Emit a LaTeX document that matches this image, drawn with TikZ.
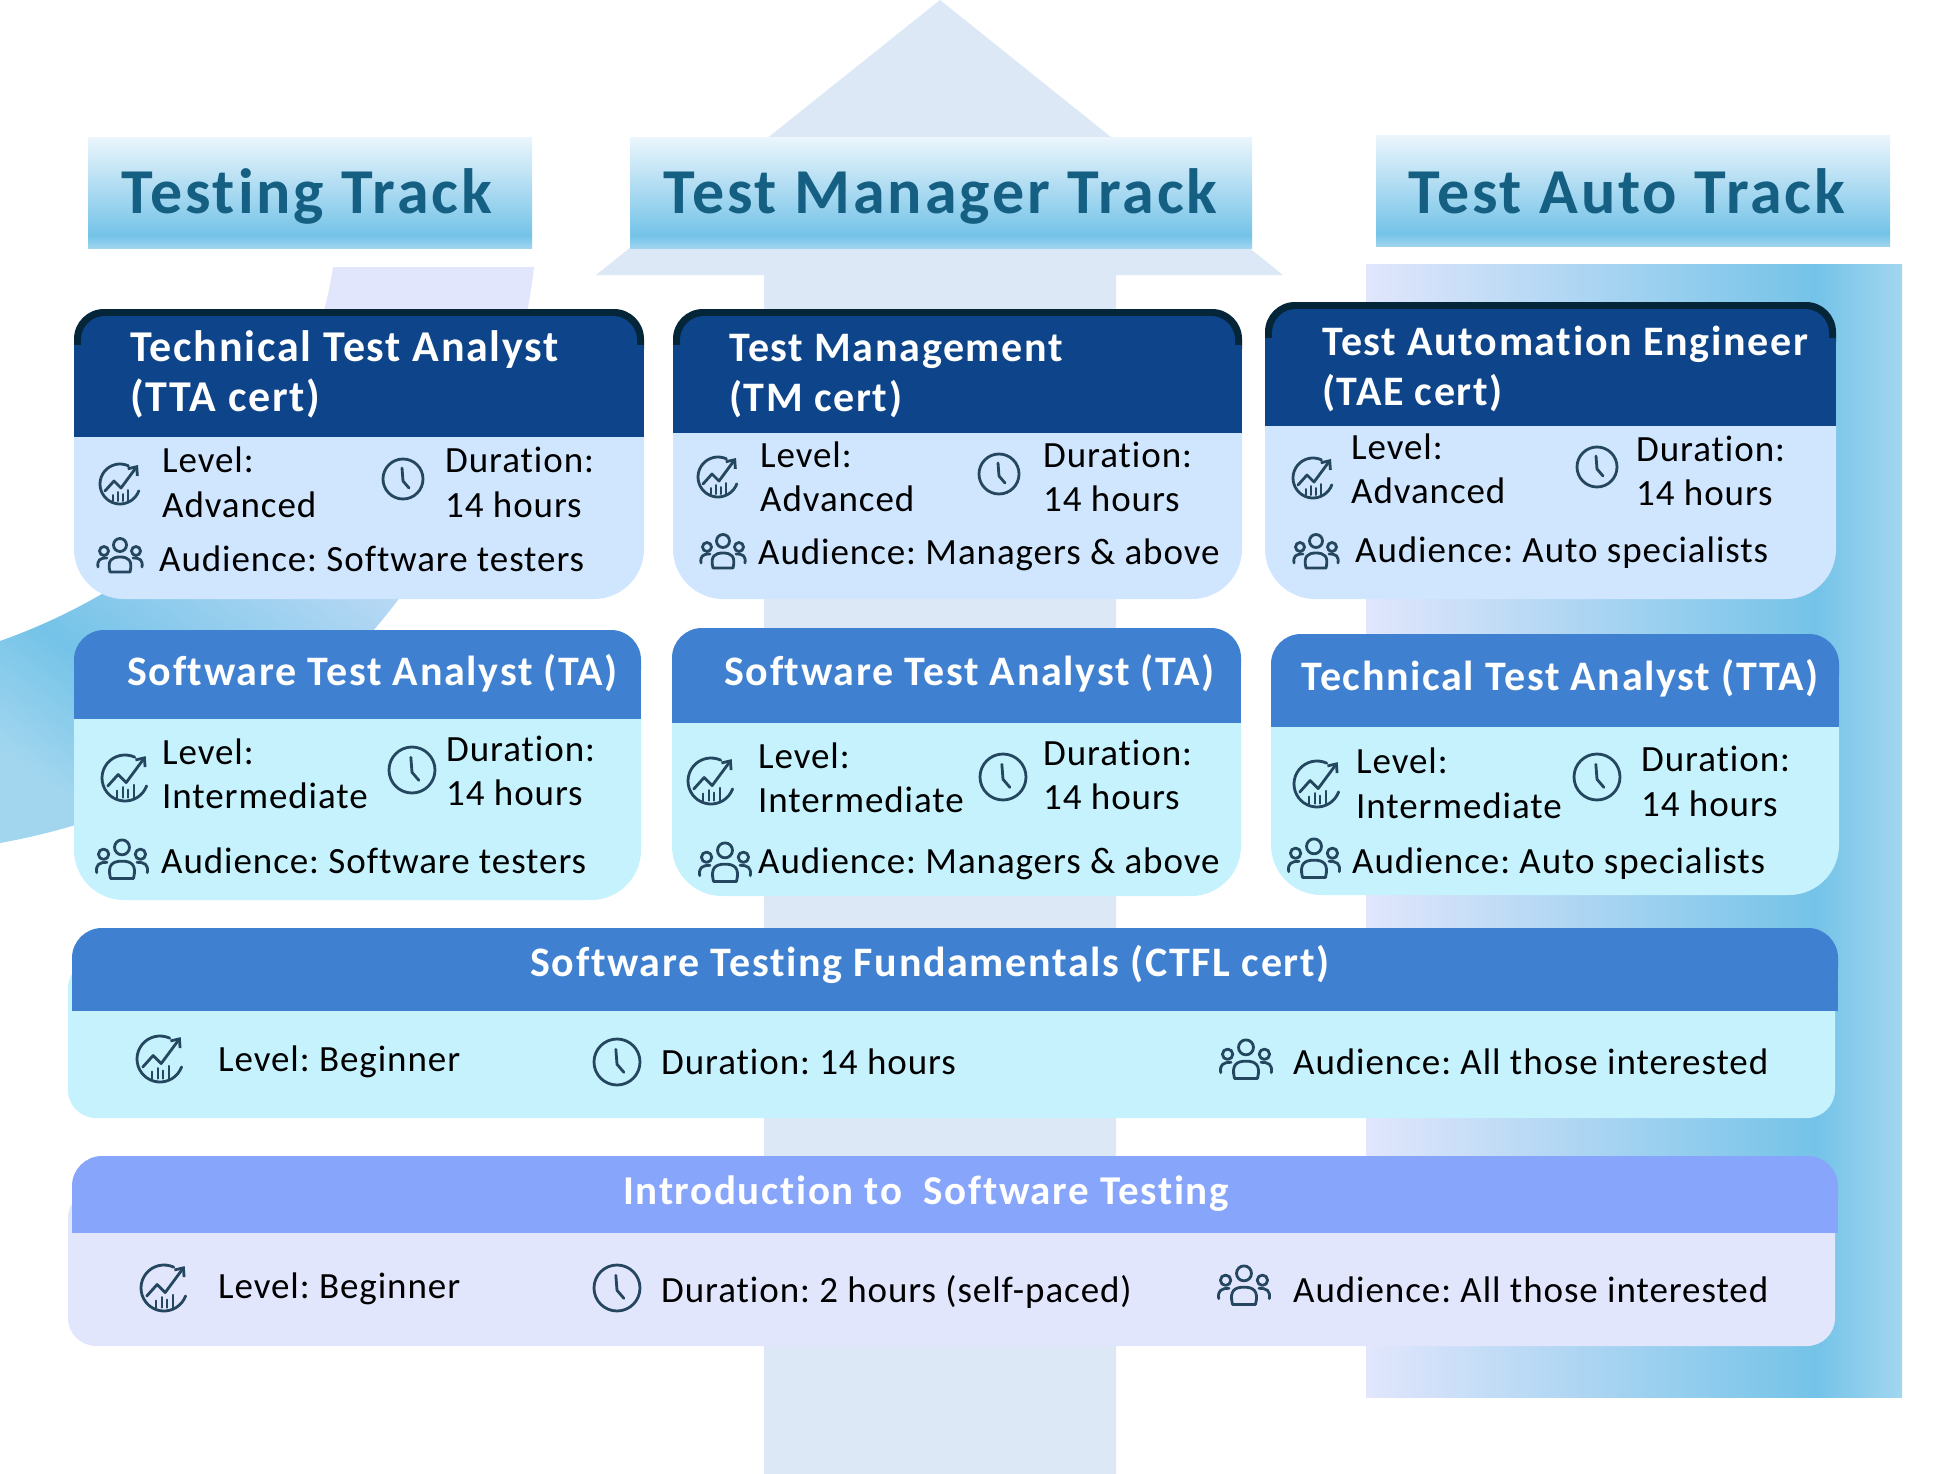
\documentclass[tikz,border=0pt]{standalone}
\usepackage{fontspec}
\setmainfont[Ligatures=NoCommon]{Carlito}
\usetikzlibrary{shadings,arrows.meta}

\definecolor{arrowblue}{HTML}{DCE8F6}
\definecolor{bandlight}{HTML}{E1E6FC}
\definecolor{bandmid}{HTML}{74C3E8}
\definecolor{bandend}{HTML}{A2D6EF}
\definecolor{bannertop}{HTML}{EAF5FC}
\definecolor{trackink}{HTML}{156082}
\definecolor{headnavy}{HTML}{0E458A}
\definecolor{headrim}{HTML}{052538}
\definecolor{headblue}{HTML}{4080D0}
\definecolor{headperi}{HTML}{88A5FC}
\definecolor{bodyblue}{HTML}{CFE6FE}
\definecolor{bodycyan}{HTML}{C5F2FD}
\definecolor{bodyperi}{HTML}{E2E6FD}
\definecolor{iconink}{HTML}{24465F}

\pgfdeclareverticalshading{bannershade}{100bp}{color(0bp)=(bandend); color(25bp)=(bandend); color(31bp)=(bandmid); color(75bp)=(bannertop); color(100bp)=(bannertop)}
\pgfdeclarehorizontalshading{autoshade}{100bp}{color(0bp)=(bandlight); color(25bp)=(bandlight); color(67bp)=(bandmid); color(75bp)=(bandend); color(100bp)=(bandend)}
\pgfdeclarehorizontalshading{curveshade}{100bp}{color(0bp)=(bandend); color(22bp)=(bandend); color(33bp)=(bandmid); color(66bp)=(bandlight); color(100bp)=(bandlight)}

\newfontfamily\bodyfont[Ligatures=NoCommon,LetterSpace=2.5]{Carlito}
\newfontfamily\titlefont[Ligatures=NoCommon,LetterSpace=4,BoldFont={Carlito Bold}]{Carlito}
\newfontfamily\trackfont[Ligatures=NoCommon,LetterSpace=4.5,BoldFont={Carlito Bold}]{Carlito}

\tikzset{
	cardtext/.style={anchor=base west,inner sep=0pt,text=black,font=\frenchspacing\bodyfont\fontsize{37}{40}\selectfont},
	cardtitle/.style={anchor=base west,inner sep=0pt,text=white,font=\frenchspacing\titlefont\bfseries\fontsize{42}{44}\selectfont},
	bigtitle/.style={cardtitle,font=\frenchspacing\titlefont\bfseries\fontsize{44}{46}\selectfont},
	widetitle/.style={anchor=base,inner sep=0pt,text=white,font=\frenchspacing\titlefont\bfseries\fontsize{42}{44}\selectfont},
	tracktitle/.style={anchor=base west,inner sep=0pt,text=trackink,font=\frenchspacing\trackfont\bfseries\fontsize{64}{70}\selectfont},
	iconline/.style={draw=iconink,line width=2.8pt,line cap=round,line join=round},
	iconclock/.pic={
		\draw[iconline] (0,0) circle[radius=20];
		\draw[iconline] (-1,-11) -- (0,2) -- (6,9);
	},
	iconchart/.pic={
		\draw[iconline,domain=-340:-65,samples=30,smooth] plot ({20*cos(\x)},{20*sin(\x)});
		\draw[iconline,-{Straight Barb[length=7pt,width=12pt]}] (-15,7) -- (-6,-3) -- (1,4) -- (18,-19);
		\foreach \barx/\bartop in {-7/11,-2/8,3/10,8/6}
			\draw[iconline,line width=2pt] (\barx,17) -- (\barx,\bartop);
	},
	iconpeople/.pic={
		\draw[iconline] (0,-11) circle[radius=6.5];
		\draw[iconline] (-16,-5) circle[radius=4.5];
		\draw[iconline] (16,-5) circle[radius=4.5];
		\draw[iconline] (-10,16) -- (10,16) .. controls (13,4) and (8,1) .. (0,1) .. controls (-8,1) and (-13,4) .. (-10,16);
		\draw[iconline] (-22,11) .. controls (-23,4) and (-20,2) .. (-13,2);
		\draw[iconline] (22,11) .. controls (23,4) and (20,2) .. (13,2);
	},
}

% card: body, head, rim, x1, x2, top, head bottom, bottom, body radius
\newcommand{\cardbox}[9]{
	\fill[#1,rounded corners=#9] (#4,#7-50) rectangle (#5,#8);
	\fill[#3,rounded corners=30] (#4,#6) rectangle (#5,#6+70);
	\fill[#2] (#4,#6+36) rectangle (#5,#7);
	\fill[#2,rounded corners=24] (#4+7,#6+7) rectangle (#5-7,#6+70);
}

\begin{document}
\begin{tikzpicture}[x=1pt,y=-1pt]
	\useasboundingbox (0,0) rectangle (1944,1474);
	% backdrop
	\fill[arrowblue] (940,0) -- (1283,275) -- (1116,275) -- (1116,1474) -- (764,1474) -- (764,275) -- (596,275) -- cycle;
	\shade[shading=autoshade] (1366,264) rectangle (1902,1397);
	\shade[shading=curveshade,shading angle=55] (333,267) -- (534,267) .. controls (510,480) and (350,780) .. (0,843) -- (0,641) .. controls (200,570) and (310,420) .. (333,267) -- cycle;
	% track banners
	\shade[shading=bannershade] (88,138) rectangle (532,249);
	\shade[shading=bannershade] (630,138) rectangle (1252,249);
	\shade[shading=bannershade] (1376,136) rectangle (1890,247);
	\node[tracktitle] (testing) at (121,214) {Testing Track};
	\node[tracktitle] (manager) at (663,214) {Test Manager Track};
	\node[tracktitle] (auto) at (1408,214) {Test Auto Track};
	% advanced row
	\cardbox{bodyblue}{headnavy}{headrim}{74}{644}{309}{437}{599}{50}
	\cardbox{bodyblue}{headnavy}{headrim}{673}{1242}{309}{433}{599}{50}
	\cardbox{bodyblue}{headnavy}{headrim}{1265}{1836}{302}{426}{599}{50}
	\node[bigtitle] (tta1) at (130,361) {Technical Test Analyst};
	\node[bigtitle] (tta2) at (130,411) {(TTA cert)};
	\node[cardtext] (ttalevel) at (162,472) {Level:};
	\node[cardtext] (ttaadv) at (162,517) {Advanced};
	\node[cardtext] (ttadur) at (445,472) {Duration:};
	\node[cardtext] (ttahours) at (445,517) {14 hours};
	\node[cardtext] (ttaaud) at (159,571) {Audience: Software testers};
	\pic at (120,484) {iconchart};
	\pic at (403,479) {iconclock};
	\pic at (120,556) {iconpeople};
	\node[cardtitle] (tm1) at (729,361) {Test Management};
	\node[cardtitle] (tm2) at (729,411) {(TM cert)};
	\node[cardtext] (tmlevel) at (760,467) {Level:};
	\node[cardtext] (tmadv) at (760,511) {Advanced};
	\node[cardtext] (tmdur) at (1043,467) {Duration:};
	\node[cardtext] (tmhours) at (1043,511) {14 hours};
	\node[cardtext] (tmaud) at (758,564) {Audience: Managers \& above};
	\pic at (718,477) {iconchart};
	\pic at (999,474) {iconclock};
	\pic at (723,552) {iconpeople};
	\node[cardtitle] (tae1) at (1322,355) {Test Automation Engineer};
	\node[cardtitle] (tae2) at (1322,405) {(TAE cert)};
	\node[cardtext] (taelevel) at (1351,459) {Level:};
	\node[cardtext] (taeadv) at (1351,503) {Advanced};
	\node[cardtext] (taedur) at (1636,461) {Duration:};
	\node[cardtext] (taehours) at (1636,505) {14 hours};
	\node[cardtext] (taeaud) at (1355,562) {Audience: Auto specialists};
	\pic at (1313,478) {iconchart};
	\pic at (1597,467) {iconclock};
	\pic at (1316,552) {iconpeople};
	% intermediate row
	\cardbox{bodycyan}{headblue}{headblue}{74}{641}{630}{719}{900}{50}
	\cardbox{bodycyan}{headblue}{headblue}{672}{1241}{628}{723}{896}{50}
	\cardbox{bodycyan}{headblue}{headblue}{1271}{1839}{634}{727}{895}{50}
	\node[cardtitle] (ta1) at (127,685) {Software Test Analyst (TA)};
	\node[cardtext] (ta1level) at (162,764) {Level:};
	\node[cardtext] (ta1int) at (162,808) {Intermediate};
	\node[cardtext] (ta1dur) at (446,761) {Duration:};
	\node[cardtext] (ta1hours) at (446,805) {14 hours};
	\node[cardtext] (ta1aud) at (161,873) {Audience: Software testers};
	\pic[scale=1.15] at (125,778) {iconchart};
	\pic[scale=1.15] at (412,770) {iconclock};
	\pic[scale=1.15] at (122,860) {iconpeople};
	\node[cardtitle] (ta2) at (724,685) {Software Test Analyst (TA)};
	\node[cardtext] (ta2level) at (758,768) {Level:};
	\node[cardtext] (ta2int) at (758,812) {Intermediate};
	\node[cardtext] (ta2dur) at (1043,765) {Duration:};
	\node[cardtext] (ta2hours) at (1043,809) {14 hours};
	\node[cardtext] (ta2aud) at (758,873) {Audience: Managers \& above};
	\pic[scale=1.15] at (711,781) {iconchart};
	\pic[scale=1.15] at (1003,777) {iconclock};
	\pic[scale=1.15] at (725,863) {iconpeople};
	\node[cardtitle] (tta3) at (1301,690) {Technical Test Analyst (TTA)};
	\node[cardtext] (tta3level) at (1356,773) {Level:};
	\node[cardtext] (tta3int) at (1356,818) {Intermediate};
	\node[cardtext] (tta3dur) at (1641,771) {Duration:};
	\node[cardtext] (tta3hours) at (1641,816) {14 hours};
	\node[cardtext] (tta3aud) at (1352,873) {Audience: Auto specialists};
	\pic[scale=1.15] at (1317,784) {iconchart};
	\pic[scale=1.15] at (1597,777) {iconclock};
	\pic[scale=1.15] at (1314,859) {iconpeople};
	% fundamentals
	\fill[bodycyan,rounded corners=28] (68,960) rectangle (1835,1118);
	\cardbox{bodycyan}{headblue}{headblue}{72}{1838}{928}{1011}{1011}{20}
	\node[widetitle] (ctfl) at (930,976) {Software Testing Fundamentals (CTFL cert)};
	\node[cardtext] (ctfllevel) at (218,1071) {Level: Beginner};
	\node[cardtext] (ctfldur) at (661,1074) {Duration: 14 hours};
	\node[cardtext] (ctflaud) at (1293,1074) {Audience: All those interested};
	\pic[scale=1.15] at (160,1059) {iconchart};
	\pic[scale=1.15] at (617,1062) {iconclock};
	\pic[scale=1.15] at (1246,1060) {iconpeople};
	% introduction
	\fill[bodyperi,rounded corners=28] (68,1190) rectangle (1835,1346);
	\cardbox{bodyperi}{headperi}{headperi}{72}{1838}{1156}{1233}{1233}{20}
	\node[widetitle,font=\frenchspacing\titlefont\bfseries\fontsize{41}{44}\selectfont] (intro) at (926,1204) {Introduction to \ Software Testing};
	\node[cardtext] (introlevel) at (218,1298) {Level: Beginner};
	\node[cardtext] (introdur) at (661,1302) {Duration: 2 hours (self-paced)};
	\node[cardtext] (introaud) at (1293,1302) {Audience: All those interested};
	\pic[scale=1.15] at (164,1288) {iconchart};
	\pic[scale=1.15] at (617,1288) {iconclock};
	\pic[scale=1.15] at (1244,1286) {iconpeople};
\end{tikzpicture}
\end{document}
